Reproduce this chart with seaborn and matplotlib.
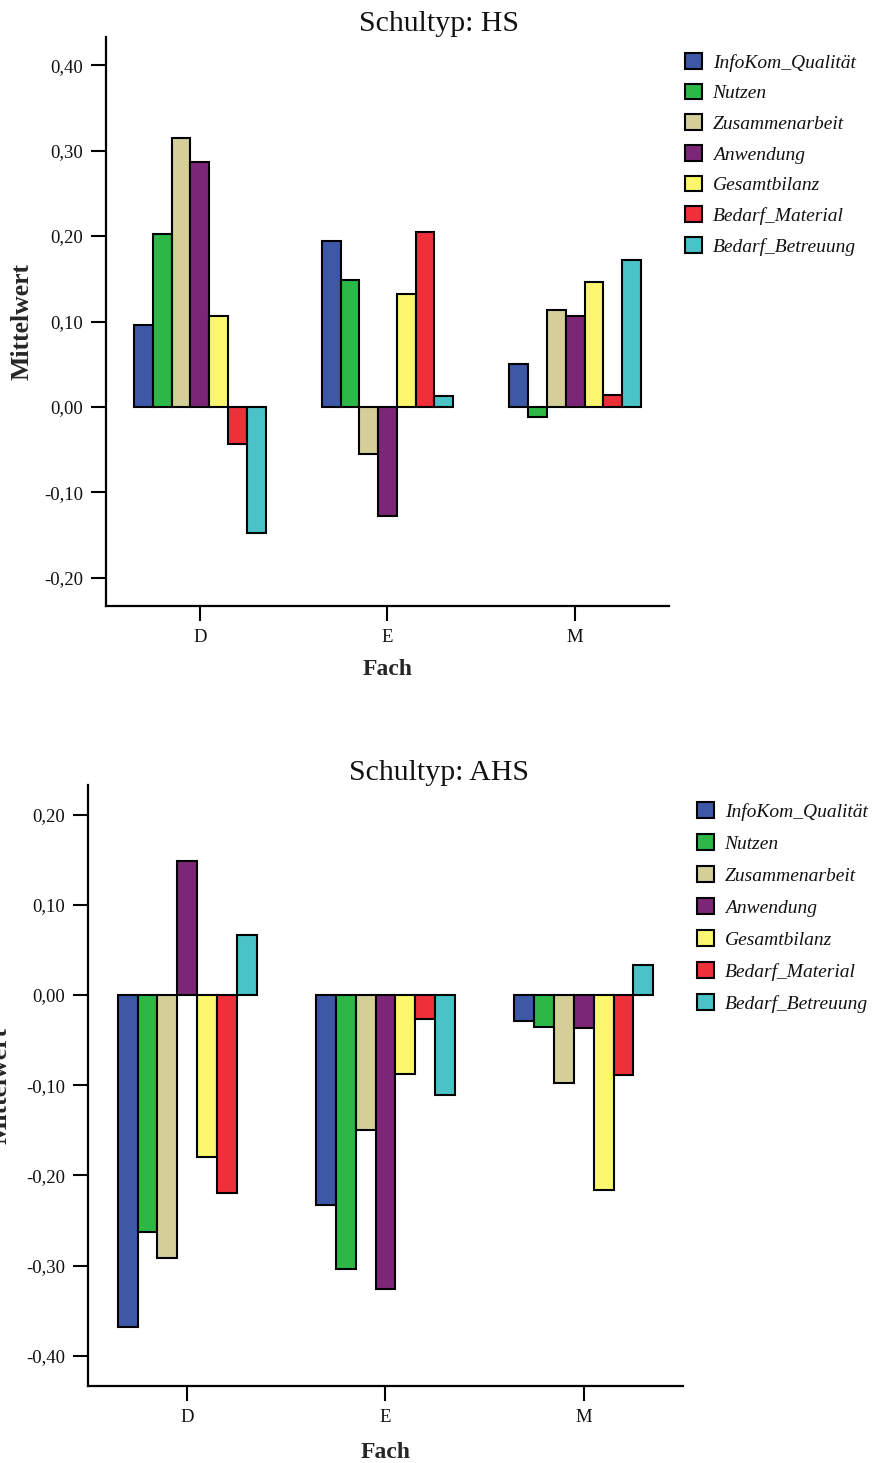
import pandas as pd
import matplotlib
matplotlib.use("Agg")
import matplotlib.pyplot as plt
import seaborn as sns
from matplotlib.ticker import FuncFormatter, FixedLocator

# Subjects (x categories) and the scales shown as hue
faecher = ["D", "E", "M"]
skalen = ["InfoKom_Qualität", "Nutzen", "Zusammenarbeit", "Anwendung",
          "Gesamtbilanz", "Bedarf_Material", "Bedarf_Betreuung"]
farben = ["#3E58A8", "#2DB746", "#D4CF97", "#7B2677",
          "#FAF66D", "#EE3039", "#49C3C7"]

# Mean values per school type and subject (order as in `skalen`)
hs_D = [0.096, 0.203, 0.315, 0.287, 0.106, -0.043, -0.147]
hs_E = [0.194, 0.148, -0.055, -0.128, 0.132, 0.205, 0.013]
hs_M = [0.050, -0.012, 0.113, 0.107, 0.146, 0.014, 0.172]

ahs_D = [-0.368, -0.263, -0.292, 0.149, -0.180, -0.220, 0.066]
ahs_E = [-0.233, -0.304, -0.150, -0.326, -0.088, -0.027, -0.111]
ahs_M = [-0.029, -0.036, -0.098, -0.037, -0.216, -0.089, 0.033]

hs_ticks = [0.40, 0.30, 0.20, 0.10, 0.00, -0.10, -0.20]
ahs_ticks = [0.20, 0.10, 0.00, -0.10, -0.20, -0.30, -0.40]

sns.set_theme(style="white")
plt.rcParams["font.family"] = ["Liberation Serif", "DejaVu Serif"]
plt.rcParams["text.color"] = "#111111"


def long_table(d, e, m):
    rows = []
    for fach, werte in zip(faecher, [d, e, m]):
        for skala, w in zip(skalen, werte):
            rows.append({"Fach": fach, "Skala": skala, "Mittelwert": w})
    return pd.DataFrame(rows)


def komma(v, _pos):
    return f"{v:.2f}".replace(".", ",")


fig = plt.figure(figsize=(8.79, 14.63), dpi=100)
W, H = 879, 1463


def panel(rect_px, data, ticks, ylim, titel, title_y, leg_xy, spacing):
    x0, y0, x1, y1 = rect_px
    ax = fig.add_axes([x0 / W, 1 - y1 / H, (x1 - x0) / W, (y1 - y0) / H])
    sns.barplot(data=data, x="Fach", y="Mittelwert", hue="Skala",
                hue_order=skalen, order=faecher, palette=farben,
                saturation=1, width=0.7, errorbar=None, edgecolor="black",
                linewidth=1.5, ax=ax)
    ax.set_xlim(-0.5, 2.5)
    ax.set_ylim(*ylim)
    ax.yaxis.set_major_locator(FixedLocator(ticks))
    ax.yaxis.set_major_formatter(FuncFormatter(komma))
    for s in ["top", "right"]:
        ax.spines[s].set_visible(False)
    for s in ["left", "bottom"]:
        ax.spines[s].set_linewidth(1.6)
        ax.spines[s].set_color("black")
    ax.tick_params(axis="both", which="major", length=10.5, width=1.5,
                   color="black", labelsize=13.5, pad=6, direction="out",
                   left=True, bottom=True, labelcolor="#111111")
    ax.set_xlabel("Fach", fontsize=17, fontweight="bold")
    ax.set_ylabel("Mittelwert", fontsize=18.5, fontweight="bold")
    ax.xaxis.set_label_coords(0.5, -0.093)
    ax.yaxis.set_label_coords(-0.128, 0.5)

    fig.text(0.5, 1 - title_y / H, titel, ha="center", va="center",
             fontsize=21.5)

    handles, labels = ax.get_legend_handles_labels()
    ax.legend(handles, labels, loc="upper left",
              bbox_to_anchor=(leg_xy[0] / W, 1 - leg_xy[1] / H),
              bbox_transform=fig.transFigure, frameon=False,
              prop={"style": "italic", "size": 14},
              borderpad=0, borderaxespad=0, handlelength=0.87,
              handleheight=0.87, handletextpad=0.55, labelspacing=spacing)
    return ax


panel((106, 37, 669, 606), long_table(hs_D, hs_E, hs_M), hs_ticks,
      (-0.233, 0.433), "Schultyp: HS", 24, (685, 53), 0.62)
panel((88, 785, 683, 1386), long_table(ahs_D, ahs_E, ahs_M), ahs_ticks,
      (-0.4335, 0.2328), "Schultyp: AHS", 773, (697, 802), 0.69)

fig.savefig("out.png", dpi=100)
